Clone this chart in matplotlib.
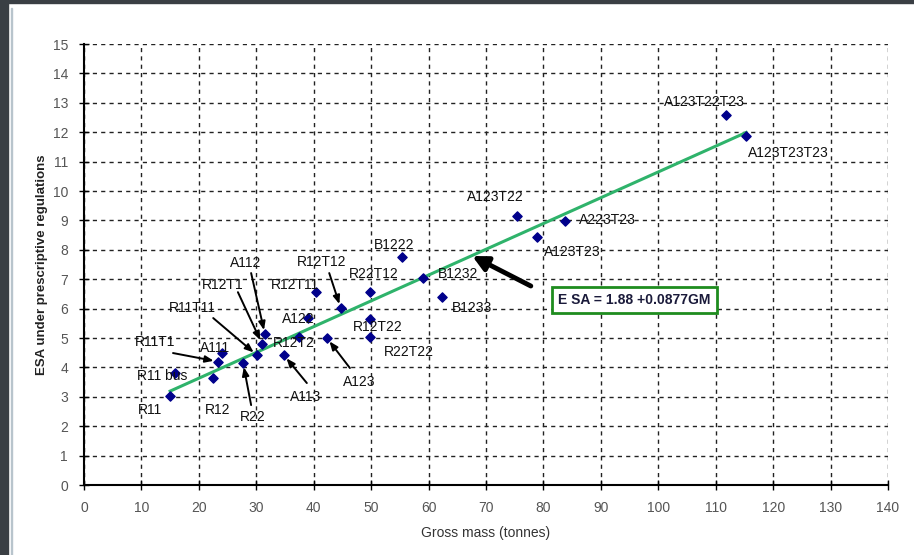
import matplotlib
matplotlib.use("Agg")
import matplotlib.pyplot as plt
from matplotlib.patches import Rectangle

plt.rcParams['font.family'] = ['Liberation Sans', 'DejaVu Sans']

# vehicle configurations, gross mass (t) and ESA
names = ['R11', 'R11 bus', 'R12', 'R11T1', 'A111', 'R22', 'R11T11', 'R12T1',
         'A112', 'R12T2', 'A113', 'R12T11', 'A122', 'A123', 'R12T12',
         'R22T12', 'R12T22', 'R22T22', 'B1222', 'B1232', 'B1233',
         'A123T22', 'A123T23', 'A223T23', 'A123T22T23', 'A123T23T23']
gm = [15.0, 15.8, 22.5, 23.3, 24.0, 27.7, 30.1, 31.0,
      31.5, 37.4, 34.8, 40.4, 39.0, 42.3, 44.7,
      49.8, 49.8, 49.8, 55.4, 59.0, 62.3,
      75.4, 78.9, 83.8, 111.8, 115.3]
esa = [3.03, 3.80, 3.64, 4.20, 4.50, 4.15, 4.42, 4.80,
       5.13, 5.03, 4.42, 6.56, 5.68, 5.00, 6.02,
       6.56, 5.65, 5.03, 7.76, 7.04, 6.39,
       9.15, 8.44, 8.98, 12.59, 11.87]

# trend line ESA = 1.88 + 0.0877 GM
intercept = 1.88
slope = 0.0877
fit_range = [15.0, 115.3]

# label placement (data coords) and optional arrow tails
label_pos = {
    'R11': (11.5, 2.55), 'R11 bus': (13.6, 3.71), 'R11T1': (12.4, 4.86),
    'A111': (22.8, 4.66), 'R12': (23.3, 2.55), 'R22': (29.4, 2.31),
    'R11T11': (18.8, 6.02), 'R12T1': (24.2, 6.80), 'A112': (28.2, 7.55),
    'R12T11': (36.7, 6.80), 'R12T12': (41.4, 7.59), 'A122': (37.3, 5.65),
    'R12T2': (36.6, 4.83), 'A113': (38.5, 2.99), 'A123': (47.9, 3.50),
    'R22T12': (50.5, 7.18), 'R12T22': (51.2, 5.37), 'R22T22': (56.6, 4.52),
    'B1222': (54.0, 8.16), 'B1232': (65.1, 7.18), 'B1233': (67.6, 6.02),
    'A123T22': (71.7, 9.80), 'A223T23': (91.1, 9.01), 'A123T23': (85.1, 7.93),
    'A123T22T23': (108.0, 13.03), 'A123T23T23': (122.6, 11.29),
}
arrow_tail = {
    'R11T1': (15.5, 4.49), 'R22': (29.1, 2.72), 'R11T11': (22.5, 5.68),
    'R12T1': (26.8, 6.56), 'A112': (29.1, 7.21), 'R12T12': (42.7, 7.21),
    'A113': (38.8, 3.47), 'A123': (46.3, 3.98),
}

fig = plt.figure(figsize=(9.14, 5.55), dpi=100)
ax = fig.add_axes([0.0919, 0.126, 0.8797, 0.7947])

# screenshot edges
fig.patches.append(Rectangle((0, 0), 0.009, 1, transform=fig.transFigure,
                             color='#3a3f44', zorder=0))
fig.patches.append(Rectangle((0, 0.994), 1, 0.006, transform=fig.transFigure,
                             color='#3a3f44', zorder=0))
fig.patches.append(Rectangle((0.012, 0), 0.0015, 0.985, transform=fig.transFigure,
                             color='#b8c4cc', zorder=0))

ax.set_xlim(0, 140)
ax.set_ylim(0, 15)
ax.set_xticks(range(0, 141, 10))
ax.set_yticks(range(0, 16, 1))
ax.grid(True, color='#222222', linestyle=(0, (3, 3)), linewidth=1)
ax.set_axisbelow(True)
for s in ['top', 'right']:
    ax.spines[s].set_visible(False)
for s in ['left', 'bottom']:
    ax.spines[s].set_linewidth(1.5)
ax.tick_params(direction='inout', length=7, width=1, colors='black',
               labelcolor='#555555', labelsize=10, pad=8)

xs = fit_range
ys = [intercept + slope * x for x in xs]
ax.plot(xs, ys, color='#2fb36b', linewidth=2.2, zorder=2)

ax.scatter(gm, esa, marker='D', s=22, color='#00008b', zorder=3)

for n, x, y in zip(names, gm, esa):
    tx, ty = label_pos[n]
    ax.text(tx, ty, n, fontsize=10, color='#111111', ha='center', va='center', zorder=4)
    if n in arrow_tail:
        ax.annotate('', xy=(x, y), xytext=arrow_tail[n],
                    arrowprops=dict(arrowstyle='-|>,head_length=0.5,head_width=0.2',
                                    color='black', lw=1.4, shrinkA=0, shrinkB=3),
                    zorder=4)

# equation callout
ax.annotate('', xy=(67.6, 7.79), xytext=(77.8, 6.77),
            arrowprops=dict(arrowstyle='-|>,head_length=0.9,head_width=0.45',
                            color='black', lw=3.5, shrinkA=0, shrinkB=0), zorder=5)
ax.text(95.8, 6.29, 'E SA = %.2f +%.4fGM' % (intercept, slope), fontsize=10,
        fontweight='bold', color='#1a1a3a', ha='center', va='center', zorder=5,
        bbox=dict(boxstyle='square,pad=0.45', facecolor='white',
                  edgecolor='#1e8c1e', linewidth=2))

ax.set_xlabel('Gross mass (tonnes)', fontsize=10, color='#333333', labelpad=8)
ax.set_ylabel('ESA under prescriptive regulations', fontsize=9.5,
              fontweight='bold', color='#222222', labelpad=3)

fig.savefig('out.png', dpi=100)
